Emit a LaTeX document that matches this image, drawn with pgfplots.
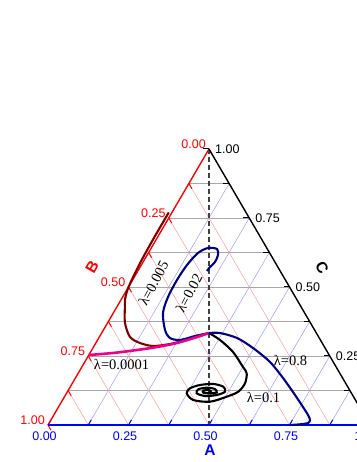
\documentclass[border=0pt]{standalone}
\usepackage{fontspec}
\setmainfont{Liberation Sans}
\newfontfamily\lamfont{Liberation Serif}
\usepackage{pgfplots}
\usepackage{pgfplotstable}
\pgfplotsset{compat=1.18}

\definecolor{gridgray}{HTML}{A8A8A8}
\definecolor{gridred}{HTML}{FF9A9A}
\definecolor{gridblue}{HTML}{9A9AFF}
\definecolor{trajred}{HTML}{800000}
\definecolor{trajnavy}{HTML}{000088}
\definecolor{axred}{HTML}{FF0000}
\definecolor{axblue}{HTML}{0000FF}

% trajectories as ternary fractions (A, C); B = 1 - A - C
\pgfplotstableread{
A C
0.0000 0.2536
0.0714 0.2609
0.1405 0.2717
0.1972 0.2826
0.2520 0.2971
0.3033 0.3188
0.3333 0.3333
}\lamA
\pgfplotstableread{
A C
-0.010 0.770
-0.010 0.680
-0.008 0.600
-0.004 0.540
0.001 0.495
0.010 0.460
0.025 0.4275
0.0543 0.3696
0.0953 0.3188
0.1371 0.2971
0.1830 0.2862
0.2322 0.2935
0.2640 0.3043
0.3033 0.3188
0.3333 0.3333
}\lamB
\pgfplotstableread{
A C
0.3333 0.3333
0.2953 0.3225
0.2559 0.3080
0.2213 0.3152
0.1913 0.3442
0.1542 0.4058
0.1408 0.4638
0.1379 0.5254
0.1418 0.5797
0.1542 0.6232
0.1762 0.6413
0.2060 0.6377
0.2200 0.6159
0.2233 0.5906
0.2169 0.5725
0.2148 0.5580
}\lamC
\pgfplotstableread{
A C
0.3333 0.3333
0.3802 0.3080
0.4423 0.2645
0.5005 0.2101
0.5234 0.1873
0.5363 0.1511
0.5307 0.1207
0.5037 0.1025
0.4609 0.0844
0.4059 0.0906
0.3733 0.1149
0.3745 0.1330
0.3995 0.1449
0.4391 0.1486
0.4750 0.1388
0.4894 0.1207
0.4696 0.1087
0.4351 0.1051
0.4044 0.1149
0.4021 0.1293
0.4253 0.1351
0.4534 0.1304
0.4647 0.1185
0.4457 0.1149
0.4238 0.1170
0.4202 0.1243
0.4344 0.1268
0.4481 0.1207
}\lamD
\pgfplotstableread{
A C
0.3333 0.3333
0.3675 0.3333
0.4294 0.3152
0.4971 0.2790
0.5753 0.2283
0.6447 0.1703
0.7128 0.1087
0.7593 0.0652
0.7894 0.0362
0.8046 0.0181
0.8039 0.0072
0.7814 0.0025
0.7516 0.0000
}\lamE

\begin{document}
\begin{tikzpicture}
\begin{axis}[
  width=357pt, height=462pt, scale only axis,
  xmin=-0.14907, xmax=0.95963, ymin=-0.13406, ymax=1.53986,
  hide axis, clip=false,
  traj/.style={line width=2.1pt, smooth, no marks},
]
% grid
\pgfplotsinvokeforeach{1,...,7}{
  \draw[gridred, line width=0.5pt] ({(1-#1/8)/2},{1-#1/8}) -- ({1-#1/8},0);
  \draw[gridblue, line width=0.5pt] ({#1/8},0) -- ({#1/8+(1-#1/8)/2},{1-#1/8});
  \draw[gridgray, line width=0.8pt] ({#1/16},{#1/8}) -- ({1-#1/16},{#1/8});
}
% ticks
\pgfplotsinvokeforeach{0,...,8}{
  \draw[axred, line width=1pt] ({(1-#1/8)/2},{1-#1/8}) -- ++(3pt,-5.2pt);
  \draw[axblue, line width=1pt] ({#1/8},0) -- ++(3pt,5.2pt);
  \draw[black, line width=1pt] ({1-#1/16},{#1/8}) -- ++(-6pt,0pt);
}
% dashed median
\addplot[color=black!75, line width=1.3pt, dash pattern=on 5pt off 3pt] coordinates {(0.5,1) (0.5,0)};
% edges
\addplot[axred, line width=1.4pt] coordinates {(0,0) (0.5,1)};
\addplot[black, line width=1.4pt] coordinates {(0.5,1) (1,0)};
\addplot[axblue, line width=2.8pt] coordinates {(0,0) (1,0)};
% trajectories
\addplot[traj, trajred] table[x expr=\thisrow{A}+0.5*\thisrow{C}, y=C] {\lamB};
\addplot[traj, trajnavy] table[x expr=\thisrow{A}+0.5*\thisrow{C}, y=C] {\lamC};
\addplot[traj, magenta, line width=2.6pt] table[x expr=\thisrow{A}+0.5*\thisrow{C}, y=C] {\lamA};
\addplot[traj, black] table[x expr=\thisrow{A}+0.5*\thisrow{C}, y=C] {\lamD};
\addplot[traj, trajnavy] table[x expr=\thisrow{A}+0.5*\thisrow{C}, y=C] {\lamE};
% tick labels
\pgfplotsinvokeforeach{0.00,0.25,0.50,0.75,1.00}{
  \node[anchor=north, inner sep=0pt, text=axblue, font=\fontsize{12.5}{15}\selectfont]
    at (#1,0) [xshift=-3.5pt, yshift=-7pt] {#1};
  \node[anchor=south east, inner sep=0pt, text=axred, font=\fontsize{12.5}{15}\selectfont]
    at ({(1-#1)/2},{1-#1}) [xshift=-3pt] {#1};
  \node[anchor=west, inner sep=0pt, text=black, font=\fontsize{12.5}{15}\selectfont]
    at ({1-#1/2},{#1}) [xshift=6pt] {#1};
}
% axis titles
\node[text=axblue, font=\fontsize{15.5}{18}\selectfont\bfseries] at (0.5031,-0.0906) {A};
\node[text=axred, font=\fontsize{15.5}{18}\selectfont\bfseries, rotate=60] at (0.1366,0.5725) {B};
\node[text=black, font=\fontsize{15.5}{18}\selectfont\bfseries, rotate=-60] at (0.8509,0.5688) {C};
% curve labels
\node[font=\fontsize{14.5}{17}\selectfont\lamfont, inner sep=0pt] at (0.2283,0.2210) {λ=0.0001};
\node[font=\fontsize{14.5}{17}\selectfont\lamfont, inner sep=0pt] at (0.6693,0.1014) {λ=0.1};
\node[font=\fontsize{14.5}{17}\selectfont\lamfont, inner sep=0pt] at (0.7531,0.2355) {λ=0.8};
\node[font=\fontsize{14.5}{17}\selectfont\lamfont, inner sep=0pt, rotate=62] at (0.3276,0.5145) {λ=0.005};
\node[font=\fontsize{14.5}{17}\selectfont\lamfont, inner sep=0pt, rotate=62] at (0.4379,0.4783) {λ=0.02};
\coordinate (bl) at (-0.14907,-0.13406);
\coordinate (tr) at (0.95963,1.53986);
\end{axis}
\pgfresetboundingbox
\path[use as bounding box] (bl) rectangle (tr);
\end{tikzpicture}
\end{document}
